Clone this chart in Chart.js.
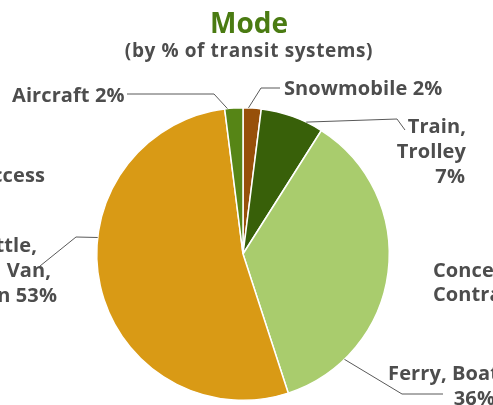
<!DOCTYPE html>
<html>
<head>
<meta charset="utf-8">
<script src="https://cdn.jsdelivr.net/npm/chart.js@4.4.1/dist/chart.umd.min.js"></script>
<style>
  body { margin: 0; background: #fff; }
  canvas { display: block; }
</style>
</head>
<body>
<canvas id="modeChart" width="493" height="405"></canvas>
<script>
// Режими перевезень, частка транспортних систем (%)
const modes = ['Snowmobile', 'Train, Trolley', 'Ferry, Boat', 'Bus, Shuttle, Car, Van, Sedan', 'Aircraft'];
const shares = [2, 7, 36, 53, 2];
const sliceColors = ['#97500A', '#386009', '#A9CC6D', '#D99A15', '#568516'];

const chartTitle = 'Mode';
const chartSubtitle = '(by % of transit systems)';

// Підписи по рядках; відсоток додається з shares
const labelLines = [
  ['Snowmobile'],
  ['Train,', 'Trolley'],
  ['Ferry, Boat'],
  ['Bus, Shuttle,', 'Car, Van,', 'Sedan'],
  ['Aircraft']
];

// Розташування підписів і ліній-виносок
const labelLayout = [
  { at: 0.3,  elbow: [261, 88],  end: [280, 88],  pctOwnLine: false, align: 'left',  xs: [284], y: 95 },
  { at: 0.73, elbow: [397, 119], end: [405, 130], pctOwnLine: true,  align: 'right', xs: [466, 466, 465], y: 133 },
  { at: 0.8,  elbow: [402, 394], end: [443, 394], pctOwnLine: true,  align: 'right', xs: [499, 495], y: 380 },
  { at: 0.6,  elbow: [76, 237],  end: [40, 266],  pctOwnLine: false, align: 'right', xs: [37, 51, 57], y: 252 },
  { at: 0.15, elbow: [214, 94],  end: [127, 94],  pctOwnLine: false, align: 'left',  xs: [12], y: 102 }
];

// Текст сусідніх діаграм, що потрапляє в кадр
const sideText = [
  { text: 'Access', x: 45, y: 182, align: 'right' },
  { text: 'Concession/', x: 433, y: 277, align: 'left' },
  { text: 'Contract', x: 433, y: 301, align: 'left' }
];

const textColor = '#4D4D4D';
const fontFamily = "'Open Sans', sans-serif";
const lineStep = 25;

const leaderLabels = {
  id: 'leaderLabels',
  afterDraw(chart) {
    const ctx = chart.ctx;
    const arcs = chart.getDatasetMeta(0).data;
    ctx.save();
    ctx.textBaseline = 'alphabetic';

    // заголовок
    ctx.textAlign = 'center';
    ctx.letterSpacing = '0px';
    ctx.font = 'bold 28px ' + fontFamily;
    ctx.fillStyle = '#4A7B12';
    ctx.fillText(chartTitle, 249, 33);
    ctx.letterSpacing = '0.6px';
    ctx.font = 'bold 19px ' + fontFamily;
    ctx.fillStyle = textColor;
    ctx.fillText(chartSubtitle, 249, 57);

    ctx.strokeStyle = '#595959';
    ctx.lineWidth = 1;
    ctx.font = 'bold 20px ' + fontFamily;
    ctx.letterSpacing = '0.1px';

    arcs.forEach((arc, i) => {
      const lay = labelLayout[i];
      const p = arc.getProps(['x', 'y', 'startAngle', 'endAngle', 'outerRadius'], true);
      const a = p.startAngle + (p.endAngle - p.startAngle) * lay.at;
      const ax = p.x + Math.cos(a) * p.outerRadius;
      const ay = p.y + Math.sin(a) * p.outerRadius;

      ctx.beginPath();
      ctx.moveTo(ax, ay);
      ctx.lineTo(lay.elbow[0], lay.elbow[1]);
      ctx.lineTo(lay.end[0], lay.end[1]);
      ctx.stroke();

      const pct = shares[i] + '%';
      const lines = labelLines[i].slice();
      if (lay.pctOwnLine) lines.push(pct);
      else lines[lines.length - 1] += ' ' + pct;

      ctx.textAlign = lay.align;
      lines.forEach((t, k) => {
        const x = lay.xs[k] !== undefined ? lay.xs[k] : lay.xs[0];
        ctx.fillText(t, x, lay.y + k * lineStep);
      });
    });

    sideText.forEach(s => {
      ctx.textAlign = s.align;
      ctx.fillText(s.text, s.x, s.y);
    });
    ctx.restore();
  }
};

new Chart(document.getElementById('modeChart'), {
  type: 'pie',
  data: {
    labels: modes,
    datasets: [{
      data: shares,
      backgroundColor: sliceColors,
      borderColor: '#ffffff',
      borderWidth: 1.5
    }]
  },
  options: {
    responsive: false,
    animation: false,
    layout: { padding: { left: 96, right: 103, top: 107, bottom: 4 } },
    plugins: {
      legend: { display: false },
      tooltip: { enabled: false },
      title: { display: false }
    }
  },
  plugins: [leaderLabels]
});
</script>
</body>
</html>
